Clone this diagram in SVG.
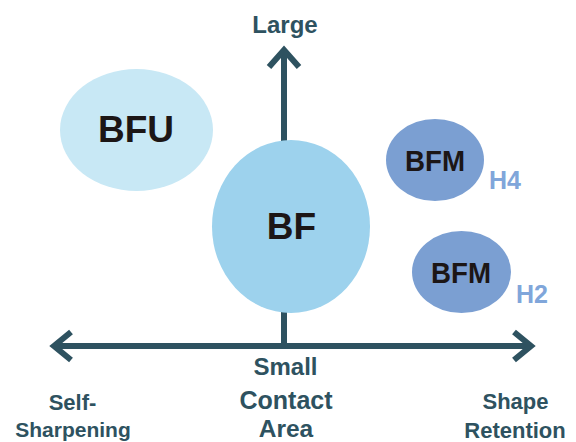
<svg xmlns="http://www.w3.org/2000/svg" width="576" height="442" viewBox="0 0 576 442">
<style>
.ax{fill:none;stroke:#2e5260;stroke-width:6;stroke-linejoin:miter;stroke-linecap:butt}
.lbl{font-family:"Liberation Sans",Arial,sans-serif;font-weight:bold;fill:#2e5260;text-anchor:middle}
.nt{font-family:"Liberation Sans",Arial,sans-serif;font-weight:bold;fill:#1c1616;text-anchor:middle}
.ht{font-family:"Liberation Sans",Arial,sans-serif;font-weight:bold;fill:#80a6da;font-size:25px}
</style>
<rect width="576" height="442" fill="#ffffff"/>
<g id="connectors">
<line class="ax" x1="284" y1="52" x2="284" y2="346"/>
<polyline class="ax" points="269,67 284,50 299,67"/>
<line class="ax" x1="54" y1="346" x2="531" y2="346"/>
<polyline class="ax" points="71,332 54,346 71,360"/>
<polyline class="ax" points="514,332 531,346 514,360"/>
</g>
<g id="BFU">
<ellipse cx="136.5" cy="130" rx="76.5" ry="61" fill="#c8e8f5"/>
<text class="nt" x="136" y="142" font-size="37">BFU</text>
</g>
<g id="BF">
<ellipse cx="291" cy="226.5" rx="79" ry="86.5" fill="#9dd2ed"/>
<text class="nt" x="291.5" y="239" font-size="37">BF</text>
</g>
<g id="BFM_H4">
<ellipse cx="435" cy="160" rx="49" ry="41" fill="#7b9fd2"/>
<text class="nt" x="435" y="171" font-size="29" textLength="60" lengthAdjust="spacingAndGlyphs">BFM</text>
<text class="ht" x="489" y="189">H4</text>
</g>
<g id="BFM_H2">
<ellipse cx="461.5" cy="272" rx="49.5" ry="41" fill="#7b9fd2"/>
<text class="nt" x="461" y="283" font-size="29" textLength="60" lengthAdjust="spacingAndGlyphs">BFM</text>
<text class="ht" x="516" y="303">H2</text>
</g>
<g id="labels">
<text class="lbl" x="285" y="32.5" font-size="24">Large</text>
<text class="lbl" x="285.5" y="375" font-size="24">Small</text>
<text class="lbl" x="286" y="409" font-size="25">Contact</text>
<text class="lbl" x="286" y="436.5" font-size="24.5">Area</text>
<text class="lbl" x="72.5" y="409.5" font-size="22">Self-</text>
<text class="lbl" x="73" y="437" font-size="21">Sharpening</text>
<text class="lbl" x="515.5" y="409" font-size="22">Shape</text>
<text class="lbl" x="515" y="437.5" font-size="22">Retention</text>
</g>
</svg>
